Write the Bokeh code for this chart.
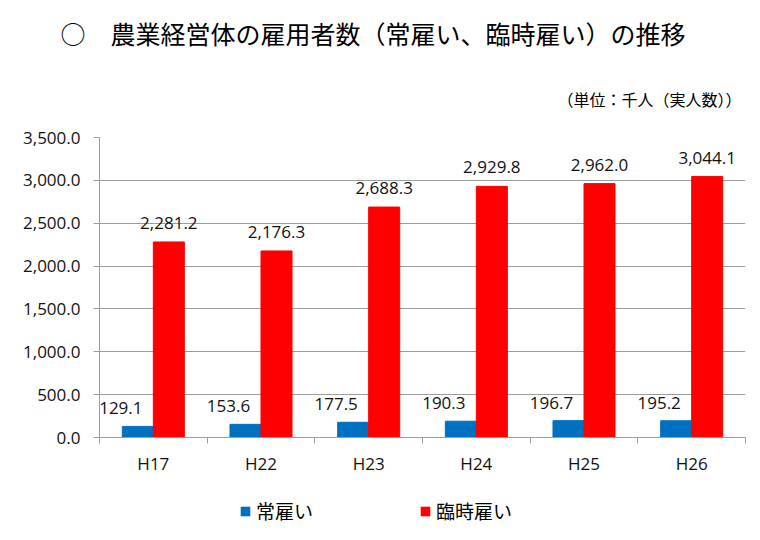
from bokeh.plotting import figure
from bokeh.layouts import column
from bokeh.models import (ColumnDataSource, FixedTicker, NumeralTickFormatter, Range1d,
                          Title, Legend, LegendItem)
from bokeh.core.properties import value
from bokeh.embed import file_html
from bokeh.resources import INLINE

# ---- data ----
categories = ["H17", "H22", "H23", "H24", "H25", "H26"]
regular = [129.1, 153.6, 177.5, 190.3, 196.7, 195.2]      # 常雇い
temporary = [2281.2, 2176.3, 2688.3, 2929.8, 2962.0, 3044.1]  # 臨時雇い
series_names = ["常雇い", "臨時雇い"]
y_ticks = [0, 500, 1000, 1500, 2000, 2500, 3000, 3500]
title_text = "○　農業経営体の雇用者数（常雇い、臨時雇い）の推移"
unit_text = "（単位：千人（実人数））"

BLUE = "#0070C0"
RED = "#FF0000"
GRID = "#9C9C9C"
NUM_FONT = "Open Sans"
CJK_FONT = "Noto Sans CJK JP"

bar_w = 0.288
idx = list(range(len(categories)))
xb = [i - bar_w / 2 for i in idx]
xr = [i + bar_w / 2 for i in idx]

src_b = ColumnDataSource(dict(x=xb, top=regular, lab=[f"{v:,.1f}" for v in regular]))
src_r = ColumnDataSource(dict(x=xr, top=temporary, lab=[f"{v:,.1f}" for v in temporary]))

p = figure(width=752, height=482, output_backend="svg", toolbar_location=None,
           x_range=Range1d(-0.5, len(categories) - 0.5), y_range=Range1d(0, 3500),
           min_border_left=99, min_border_right=7, min_border_top=137, min_border_bottom=45)
p.outline_line_color = None
p.background_fill_color = "white"
p.border_fill_color = "white"

rb = p.vbar(x="x", top="top", width=bar_w, source=src_b, fill_color=BLUE, line_color=BLUE)
rr = p.vbar(x="x", top="top", width=bar_w, source=src_r, fill_color=RED, line_color=RED)

p.text(x="x", y="top", text="lab", source=src_b, x_offset=-17, y_offset=-18,
       text_align="center", text_baseline="middle", text_font=value(NUM_FONT),
       text_font_size="17px", text_color="#111111")
p.text(x="x", y="top", text="lab", source=src_r, y_offset=-19,
       text_align="center", text_baseline="middle", text_font=value(NUM_FONT),
       text_font_size="17px", text_color="#111111")

# y axis
ya = p.yaxis[0]
ya.ticker = FixedTicker(ticks=y_ticks, minor_ticks=[])
ya.formatter = NumeralTickFormatter(format="0,0.0")
ya.axis_line_color = GRID
ya.major_tick_line_color = GRID
ya.major_tick_out = 6
ya.major_tick_in = 0
ya.major_label_standoff = 13
ya.major_label_text_font = NUM_FONT
ya.major_label_text_font_size = "17px"
ya.major_label_text_color = "#111111"

# x axis
xa = p.xaxis[0]
xa.ticker = FixedTicker(ticks=idx, minor_ticks=[i - 0.5 for i in idx] + [idx[-1] + 0.5])
xa.major_label_overrides = {i: c for i, c in zip(idx, categories)}
xa.axis_line_color = GRID
xa.major_tick_line_color = None
xa.major_tick_out = 0
xa.major_tick_in = 0
xa.minor_tick_line_color = GRID
xa.minor_tick_out = 6
xa.minor_tick_in = 0
xa.major_label_standoff = 8
xa.major_label_text_font = NUM_FONT
xa.major_label_text_font_size = "17px"
xa.major_label_text_color = "#111111"

p.xgrid.grid_line_color = None
p.ygrid.grid_line_color = GRID
p.ygrid.ticker = FixedTicker(ticks=y_ticks)

# titles (first added sits nearest the frame)
p.add_layout(Title(text=unit_text, align="right", offset=4, standoff=53,
                   text_font=CJK_FONT, text_font_size="16px", text_font_style="normal",
                   text_color="#000000"), "above")
p.add_layout(Title(text=title_text, align="left", offset=-39, standoff=15,
                   text_font=CJK_FONT, text_font_size="25px", text_font_style="normal",
                   text_color="#000000"), "above")

# legend strip below the chart
lg = figure(width=752, height=50, output_backend="svg", toolbar_location=None,
            x_range=Range1d(0, 1), y_range=Range1d(0, 1),
            x_axis_location=None, y_axis_location=None,
            min_border_left=0, min_border_right=0, min_border_top=0, min_border_bottom=0)
lg.outline_line_color = None
lg.grid.visible = False
lg.background_fill_color = "white"
lg.border_fill_color = "white"
lb = lg.vbar(x=[0], top=[0], bottom=[0], width=0, fill_color=BLUE, line_color=None)
lr = lg.vbar(x=[0], top=[0], bottom=[0], width=0, fill_color=RED, line_color=None)
legend = Legend(items=[LegendItem(label=series_names[0], renderers=[lb]),
                       LegendItem(label=series_names[1], renderers=[lr])],
                location=(140, 8), orientation="horizontal",
                glyph_width=12, glyph_height=12, label_standoff=5, spacing=106,
                padding=0, margin=0, border_line_color=None, background_fill_alpha=0,
                label_text_font=CJK_FONT, label_text_font_size="19px",
                label_text_color="#000000")
lg.add_layout(legend, "center")

layout = column(p, lg, spacing=0)
open("out.html", "w").write(file_html(layout, INLINE))
